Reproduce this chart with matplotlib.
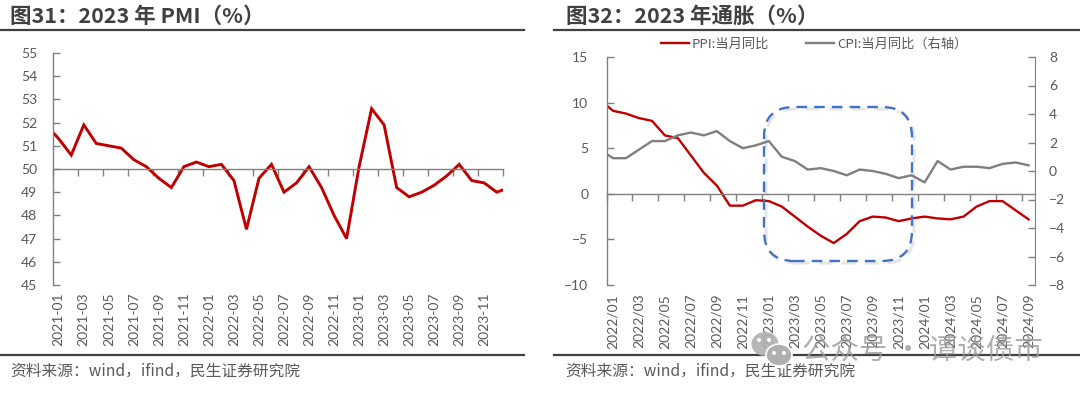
import numpy as np
import pandas as pd
import matplotlib
matplotlib.use('Agg')
import matplotlib.pyplot as plt
from matplotlib.lines import Line2D
from matplotlib.patches import FancyBboxPatch, Ellipse

plt.rcParams['font.family'] = ['Noto Sans CJK SC', 'DejaVu Sans']

W, H = 1080, 395

# PMI, first and last values run past the axis and get clipped
pmi_months = pd.date_range('2020-12-01', '2024-01-01', freq='MS').strftime('%Y-%m').tolist()
pmi = [51.9, 51.3, 50.6, 51.9, 51.1, 51.0, 50.9, 50.4, 50.1, 49.6, 49.2, 50.1, 50.3,
       50.1, 50.2, 49.5, 47.4, 49.6, 50.2, 49.0, 49.4, 50.1, 49.2, 48.0, 47.0,
       50.1, 52.6, 51.9, 49.2, 48.8, 49.0, 49.3, 49.7, 50.2, 49.5, 49.4, 49.0, 49.2]

# inflation
infl_months = pd.date_range('2021-12-01', '2024-09-01', freq='MS').strftime('%Y/%m').tolist()
ppi = [10.3, 9.1, 8.8, 8.3, 8.0, 6.4, 6.1, 4.2, 2.3, 0.9, -1.3, -1.3, -0.7,
       -0.8, -1.4, -2.5, -3.6, -4.6, -5.4, -4.4, -3.0, -2.5, -2.6, -3.0, -2.7,
       -2.5, -2.7, -2.8, -2.5, -1.4, -0.8, -0.8, -1.8, -2.8]
cpi = [1.5, 0.9, 0.9, 1.5, 2.1, 2.1, 2.5, 2.7, 2.5, 2.8, 2.1, 1.6, 1.8,
       2.1, 1.0, 0.7, 0.1, 0.2, 0.0, -0.3, 0.1, 0.0, -0.2, -0.5, -0.3,
       -0.8, 0.7, 0.1, 0.3, 0.3, 0.2, 0.5, 0.6, 0.4]

# full width punctuation
COLON, COMMA, LP, RP = '\uff1a', '\uff0c', '\uff08', '\uff09'
title1 = '图31' + COLON + '2023 年 PMI' + LP + '%' + RP
title2 = '图32' + COLON + '2023 年通胀' + LP + '%' + RP
source = '资料来源' + COLON + 'wind' + COMMA + 'ifind' + COMMA + '民生证券研究院'
ppi_name = 'PPI:当月同比'
cpi_name = 'CPI:当月同比' + LP + '右轴' + RP

RED = '#C00000'
GREY = '#7F7F7F'
AXIS = '#808080'
TXT = '#595959'
DARK = '#404040'
TICK_FS = 10
TICK_FONT = ['Lato', 'DejaVu Sans']


def px_axes(fig, x0, x1, top, bottom):
    return fig.add_axes([x0 / W, 1 - bottom / H, (x1 - x0) / W, (bottom - top) / H])


def style(ax, ypad):
    for s in ax.spines.values():
        s.set_color(AXIS)
        s.set_linewidth(1.0)
    ax.tick_params(axis='y', which='major', direction='in', length=5, color=AXIS, width=1.0,
                   labelsize=TICK_FS, labelcolor=TXT, pad=ypad)
    ax.tick_params(axis='x', which='major', direction='out', length=5, color=AXIS, width=1.0,
                   labelbottom=False)
    ax.spines['top'].set_visible(False)
    ax.spines['right'].set_visible(False)


def set_font(ax):
    for t in ax.get_yticklabels() + ax.get_xticklabels(minor=True):
        t.set_fontfamily(TICK_FONT)


fig = plt.figure(figsize=(W / 100, H / 100), dpi=100, facecolor='white')

# left chart
ax1 = px_axes(fig, 52.5, 503, 53, 285)
x1 = np.arange(len(pmi)) - 1
ax1.plot(x1, pmi, color=RED, lw=2.1, solid_joinstyle='miter')
ax1.set_xlim(-0.5, 35.5)
ax1.set_ylim(45, 55)
ax1.set_yticks(range(45, 56))
style(ax1, 11)
ax1.spines['bottom'].set_position(('data', 50))
ax1.set_xticks(np.arange(-0.5, 36, 2))
ax1.set_xticks(x1[1:-1:2], pmi_months[1:-1:2], minor=True)
ax1.tick_params(axis='x', which='minor', length=0, pad=89, labelsize=TICK_FS, labelcolor=TXT,
                labelrotation=90)
set_font(ax1)

# right chart
ax2 = px_axes(fig, 606.5, 1035, 57, 285)
x2 = np.arange(len(ppi)) - 1
l1, = ax2.plot(x2, ppi, color=RED, lw=1.7, label=ppi_name)
ax2.set_xlim(-0.5, 32.5)
ax2.set_ylim(-10, 15)
ax2.set_yticks(range(-10, 16, 5))
style(ax2, 13)
ax2.spines['bottom'].set_position(('data', 0))
ax2.set_xticks(np.arange(-0.5, 33, 2))
ax2.set_xticks(x2[1::2], infl_months[1::2], minor=True)
ax2.tick_params(axis='x', which='minor', length=0, pad=72, labelsize=TICK_FS, labelcolor=TXT,
                labelrotation=90)
set_font(ax2)

ax2r = ax2.twinx()
l2, = ax2r.plot(x2, cpi, color=GREY, lw=1.7, label=cpi_name)
ax2r.set_ylim(-8, 8)
ax2r.set_yticks(range(-8, 9, 2))
for name, s in ax2r.spines.items():
    s.set_visible(name == 'right')
    s.set_color(AXIS)
ax2r.tick_params(axis='y', direction='in', length=5, color=AXIS, width=1.0,
                 labelsize=TICK_FS, labelcolor=TXT, pad=10)
set_font(ax2r)

fig.legend(handles=[l1, l2], ncol=2, frameon=False, fontsize=9.5, labelcolor=TXT,
           loc='center left', bbox_to_anchor=(661 / W, 1 - 44 / H),
           handlelength=2.1, handletextpad=0.25, columnspacing=2.8, borderpad=0, borderaxespad=0)

# titles and rules
fig.text(10 / W, 1 - 16 / H, title1, fontsize=15.5, fontweight='bold', color=DARK, va='center')
fig.text(566 / W, 1 - 16 / H, title2, fontsize=15.5, fontweight='bold', color=DARK, va='center')
for a, b in [(0, 524), (554, 1080)]:
    for y in (29.5, 355):
        fig.add_artist(Line2D([a / W, b / W], [1 - y / H, 1 - y / H], color=DARK, lw=1.6))
fig.text(10 / W, 1 - 371 / H, source, fontsize=11.3, color=TXT, va='center')
fig.text(565 / W, 1 - 371 / H, source, fontsize=11.3, color=TXT, va='center')

# dashed highlight box, drawn in pixels
def box(dx, dy, color, alpha, lw, z):
    r = 30
    p = FancyBboxPatch((764 + r + dx, H - 261 + r - dy), 148 - 2 * r, 154 - 2 * r,
                       boxstyle='round,pad=%d,rounding_size=%d' % (r, r), fill=False,
                       edgecolor=color, alpha=alpha, lw=lw, linestyle=(0, (4.5, 3)),
                       transform=None, zorder=z)
    fig.add_artist(p)


box(2, 2, '#808080', 0.2, 2.2, 5)
box(0, 0, '#4472C4', 1, 1.7, 6)

# watermark
wm = '#9A9A9A'
fig.text(802 / W, 1 - 351 / H, '公众号 · 谭谈债市', fontsize=20.5, color=wm, alpha=0.8,
         va='center', zorder=10)
fig.add_artist(Ellipse((765, H - 344), 27, 24, facecolor='#B0B0B0', edgecolor='none', alpha=0.9,
                       transform=None, zorder=10))
fig.add_artist(Ellipse((779, H - 355), 26, 22, facecolor='#B0B0B0', edgecolor='white', lw=1.2,
                       transform=None, zorder=11))
for cx, cy in [(759, 340), (769, 340), (774, 353), (784, 353)]:
    fig.add_artist(Ellipse((cx, H - cy), 4, 4, facecolor='white', edgecolor='none',
                           transform=None, zorder=12))

fig.savefig('out.png', dpi=100, facecolor='white')
